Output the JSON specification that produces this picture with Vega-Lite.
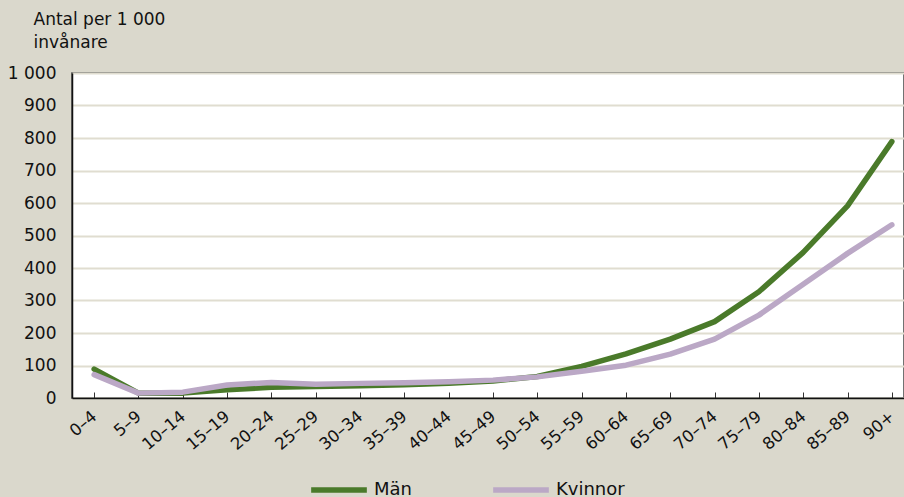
{
  "$schema": "https://vega.github.io/schema/vega-lite/v6.json",
  "width": 832,
  "height": 325,
  "autosize": "none",
  "padding": {"left": 72, "top": 73, "right": 0, "bottom": 99},
  "background": "#dad8cc",
  "config": {
    "font": "DejaVu Sans",
    "view": {"fill": "white", "stroke": "#444", "strokeWidth": 1.5}
  },
  "data": {
    "values": [
      {"age": "0–4", "kon": "Män", "value": 89},
      {"age": "5–9", "kon": "Män", "value": 15},
      {"age": "10–14", "kon": "Män", "value": 15},
      {"age": "15–19", "kon": "Män", "value": 25},
      {"age": "20–24", "kon": "Män", "value": 33},
      {"age": "25–29", "kon": "Män", "value": 35},
      {"age": "30–34", "kon": "Män", "value": 38},
      {"age": "35–39", "kon": "Män", "value": 41},
      {"age": "40–44", "kon": "Män", "value": 45},
      {"age": "45–49", "kon": "Män", "value": 52},
      {"age": "50–54", "kon": "Män", "value": 66},
      {"age": "55–59", "kon": "Män", "value": 97},
      {"age": "60–64", "kon": "Män", "value": 136},
      {"age": "65–69", "kon": "Män", "value": 181},
      {"age": "70–74", "kon": "Män", "value": 235},
      {"age": "75–79", "kon": "Män", "value": 327},
      {"age": "80–84", "kon": "Män", "value": 448},
      {"age": "85–89", "kon": "Män", "value": 591},
      {"age": "90+", "kon": "Män", "value": 789},
      {"age": "0–4", "kon": "Kvinnor", "value": 72},
      {"age": "5–9", "kon": "Kvinnor", "value": 15},
      {"age": "10–14", "kon": "Kvinnor", "value": 18},
      {"age": "15–19", "kon": "Kvinnor", "value": 40},
      {"age": "20–24", "kon": "Kvinnor", "value": 48},
      {"age": "25–29", "kon": "Kvinnor", "value": 42},
      {"age": "30–34", "kon": "Kvinnor", "value": 45},
      {"age": "35–39", "kon": "Kvinnor", "value": 47},
      {"age": "40–44", "kon": "Kvinnor", "value": 50},
      {"age": "45–49", "kon": "Kvinnor", "value": 55},
      {"age": "50–54", "kon": "Kvinnor", "value": 65},
      {"age": "55–59", "kon": "Kvinnor", "value": 82},
      {"age": "60–64", "kon": "Kvinnor", "value": 101},
      {"age": "65–69", "kon": "Kvinnor", "value": 135},
      {"age": "70–74", "kon": "Kvinnor", "value": 181},
      {"age": "75–79", "kon": "Kvinnor", "value": 255},
      {"age": "80–84", "kon": "Kvinnor", "value": 350},
      {"age": "85–89", "kon": "Kvinnor", "value": 445},
      {"age": "90+", "kon": "Kvinnor", "value": 533}
    ]
  },
  "mark": {"type": "line", "strokeWidth": 5.5, "strokeJoin": "round", "strokeCap": "round"},
  "encoding": {
    "x": {
      "field": "age",
      "type": "ordinal",
      "sort": null,
      "scale": {"paddingInner": 0, "paddingOuter": 0.5, "range": [0, 842]},
      "axis": {
        "title": null,
        "bandPosition": 0,
        "grid": false,
        "domainColor": "#111",
        "domainWidth": 1.5,
        "tickColor": "#333",
        "tickSize": -6,
        "tickWidth": 1,
        "labelAngle": -40,
        "labelAlign": "right",
        "labelBaseline": "middle",
        "labelPadding": 22,
        "labelFontSize": 16.5,
        "labelColor": "#111"
      }
    },
    "y": {
      "field": "value",
      "type": "quantitative",
      "scale": {"domain": [0, 1000]},
      "axis": {
        "values": [0, 100, 200, 300, 400, 500, 600, 700, 800, 900, 1000],
        "labelExpr": "replace(format(datum.value, ','), ',', ' ')",
        "labelFontSize": 17,
        "labelColor": "#111",
        "labelPadding": 16,
        "ticks": false,
        "domainColor": "#111",
        "domainWidth": 1.5,
        "gridColor": "#e0ddd0",
        "gridWidth": 2,
        "title": ["Antal per 1 000", "invånare"],
        "titleAngle": 0,
        "titleAlign": "left",
        "titleBaseline": "top",
        "titleX": -39,
        "titleY": -62,
        "titleFontSize": 17,
        "titleFontWeight": "normal",
        "titleColor": "#111",
        "titleLineHeight": 23
      }
    },
    "color": {
      "field": "kon",
      "type": "nominal",
      "sort": null,
      "scale": {"domain": ["Män", "Kvinnor"], "range": ["#4a7a2a", "#bba8c6"]},
      "legend": {
        "title": null,
        "orient": "none",
        "direction": "horizontal",
        "legendX": 236,
        "legendY": 386,
        "symbolType": "stroke",
        "symbolSize": 3100,
        "symbolStrokeWidth": 5.5,
        "labelFontSize": 18,
        "labelColor": "#111",
        "labelOffset": 4,
        "columnPadding": 70
      }
    }
  }
}
